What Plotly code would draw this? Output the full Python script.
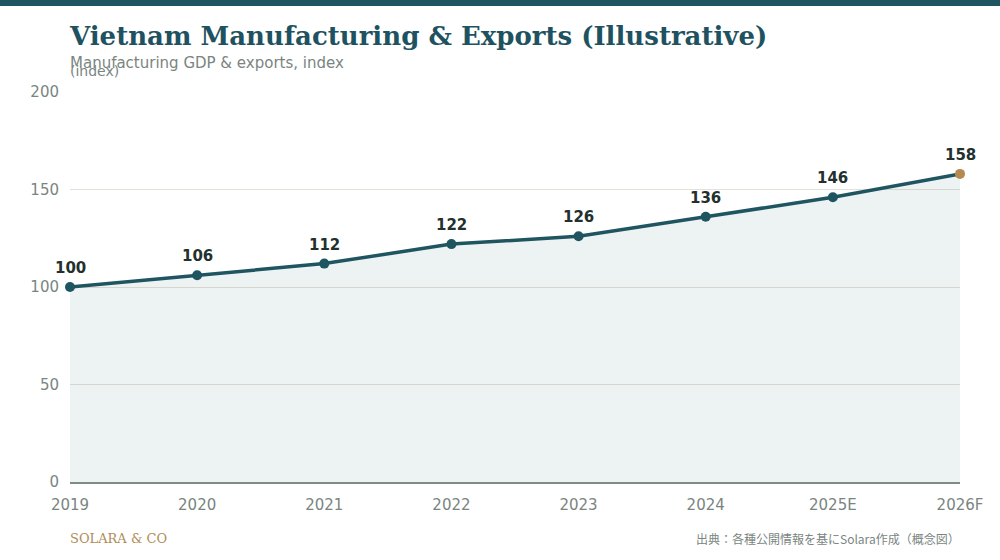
import plotly.graph_objects as go

years = ["2019", "2020", "2021", "2022", "2023", "2024", "2025E", "2026F"]
index_values = [100, 106, 112, 122, 126, 136, 146, 158]
y_ticks = [0, 50, 100, 150, 200]

TEAL = "#1f5561"
GOLD = "#b5894f"
GREY = "#7a857f"

marker_colors = [TEAL] * (len(years) - 1) + [GOLD]

fig = go.Figure()
fig.add_trace(go.Scatter(
    x=years,
    y=index_values,
    mode="lines+markers",
    line=dict(color=TEAL, width=3.5),
    marker=dict(size=10, color=marker_colors),
    fill="tozeroy",
    fillcolor="rgba(31,85,97,0.08)",
    cliponaxis=False,
    hoverinfo="skip",
    showlegend=False,
))

# value labels above each point (category index, since "2019" etc. look numeric)
for i, v in enumerate(index_values):
    fig.add_annotation(x=i, y=v, text="<b>%d</b>" % v, showarrow=False,
                       yanchor="middle", yshift=19,
                       font=dict(family="DejaVu Sans", size=15, color="#22302e"))

fig.update_layout(
    width=1000, height=560,
    margin=dict(l=70, r=40, t=92, b=78),
    paper_bgcolor="white",
    plot_bgcolor="white",
    font=dict(family="DejaVu Sans", color=GREY),
    title=dict(
        text="<b>Vietnam Manufacturing & Exports (Illustrative)</b>",
        x=0.07, xanchor="left",
        y=1 - 36 / 560, yanchor="middle",
        font=dict(family="DejaVu Serif", size=26, color="#1f5260"),
    ),
)

fig.update_xaxes(
    type="category",
    range=[0, len(years) - 1],
    showgrid=False,
    showline=True, linecolor="#7f8c84", linewidth=2,
    ticks="", tickfont=dict(size=15, color=GREY),
    ticklabelstandoff=8,
)
fig.update_yaxes(
    range=[0, 200],
    tickvals=y_ticks,
    gridcolor="#e6e1d8", gridwidth=1,
    zeroline=False,
    showline=False,
    tickfont=dict(size=15, color=GREY),
    ticklabelstandoff=10,
)

# top accent bar
fig.add_shape(type="rect", xref="paper", yref="paper",
              x0=-70 / 890, x1=1 + 40 / 890, y0=(482 - 6) / 390, y1=482 / 390,
              fillcolor=TEAL, line_width=0, layer="above")

fig.add_annotation(text="Manufacturing GDP & exports, index",
                   xref="paper", yref="paper", x=0, y=(482 - 63) / 390,
                   xanchor="left", yanchor="middle", showarrow=False, xshift=-2,
                   font=dict(size=15, color=GREY))
fig.add_annotation(text="(index)",
                   xref="paper", yref="paper", x=0, y=(482 - 71) / 390,
                   xanchor="left", yanchor="middle", showarrow=False, xshift=-2,
                   font=dict(size=14, color=GREY))
fig.add_annotation(text="SOLARA & CO",
                   xref="paper", yref="paper", x=0, y=(482 - 538) / 390,
                   xanchor="left", yanchor="middle", showarrow=False, xshift=-2,
                   font=dict(family="DejaVu Serif", size=13, color="#b08d57"))
fig.add_annotation(text="出典：各種公開情報を基にSolara作成（概念図）",
                   xref="paper", yref="paper", x=(962 - 70) / 890, y=(482 - 538) / 390,
                   xanchor="right", yanchor="middle", showarrow=False,
                   font=dict(family="Noto Sans CJK JP", size=12, color=GREY))

fig.write_html("out.html", config={"displayModeBar": False},
               post_script="document.body.style.margin='0';")
